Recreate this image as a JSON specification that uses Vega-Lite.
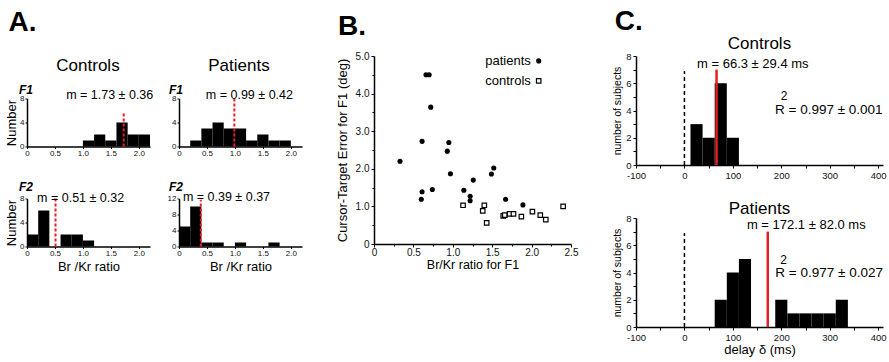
{
  "$schema": "https://vega.github.io/schema/vega-lite/v6.json",
  "padding": {"left": 5, "top": 8, "right": 2, "bottom": 2},
  "config": {
    "font": "Liberation Sans",
    "view": {"stroke": null},
    "axis": {"grid": false, "domainColor": "black", "tickColor": "black", "labelColor": "#111", "titleColor": "black", "titleFontWeight": "normal", "domainWidth": 1.5, "labelFont": "Liberation Sans", "titleFont": "Liberation Sans", "labelOverlap": false, "labelFlush": false},
    "title": {"font": "Liberation Sans", "color": "black", "fontWeight": "normal"}
  },
  "datasets": {
    "aHeader": [{"group": "Controls"}, {"group": "Patients"}],
    "aCtrlF1": [
      {"bin_start": 1.0, "bin_end": 1.2, "count": 1},
      {"bin_start": 1.2, "bin_end": 1.4, "count": 2},
      {"bin_start": 1.4, "bin_end": 1.6, "count": 1},
      {"bin_start": 1.6, "bin_end": 1.8, "count": 4},
      {"bin_start": 1.8, "bin_end": 2.0, "count": 2},
      {"bin_start": 2.0, "bin_end": 2.2, "count": 2}
    ],
    "aPatF1": [
      {"bin_start": 0.2, "bin_end": 0.4, "count": 1},
      {"bin_start": 0.4, "bin_end": 0.6, "count": 3},
      {"bin_start": 0.6, "bin_end": 0.8, "count": 4},
      {"bin_start": 0.8, "bin_end": 1.0, "count": 3},
      {"bin_start": 1.0, "bin_end": 1.2, "count": 3},
      {"bin_start": 1.2, "bin_end": 1.4, "count": 1},
      {"bin_start": 1.4, "bin_end": 1.6, "count": 2},
      {"bin_start": 1.6, "bin_end": 1.8, "count": 1},
      {"bin_start": 1.8, "bin_end": 2.0, "count": 1}
    ],
    "aCtrlF2": [
      {"bin_start": 0.0, "bin_end": 0.2, "count": 2},
      {"bin_start": 0.2, "bin_end": 0.4, "count": 6},
      {"bin_start": 0.6, "bin_end": 0.8, "count": 2},
      {"bin_start": 0.8, "bin_end": 1.0, "count": 2},
      {"bin_start": 1.0, "bin_end": 1.2, "count": 1}
    ],
    "aPatF2": [
      {"bin_start": 0.0, "bin_end": 0.2, "count": 5},
      {"bin_start": 0.2, "bin_end": 0.4, "count": 10},
      {"bin_start": 0.4, "bin_end": 0.6, "count": 1},
      {"bin_start": 0.6, "bin_end": 0.8, "count": 1},
      {"bin_start": 1.0, "bin_end": 1.2, "count": 1},
      {"bin_start": 1.6, "bin_end": 1.8, "count": 1}
    ],
    "scatter": [
      {"group": "patients", "ratio": 0.33, "error": 2.20},
      {"group": "patients", "ratio": 0.61, "error": 2.73},
      {"group": "patients", "ratio": 0.61, "error": 1.39},
      {"group": "patients", "ratio": 0.60, "error": 1.19},
      {"group": "patients", "ratio": 0.66, "error": 4.50},
      {"group": "patients", "ratio": 0.70, "error": 4.50},
      {"group": "patients", "ratio": 0.72, "error": 3.64},
      {"group": "patients", "ratio": 0.74, "error": 1.45},
      {"group": "patients", "ratio": 0.93, "error": 2.47},
      {"group": "patients", "ratio": 0.95, "error": 2.70},
      {"group": "patients", "ratio": 0.97, "error": 1.87},
      {"group": "patients", "ratio": 1.14, "error": 1.43},
      {"group": "patients", "ratio": 1.22, "error": 1.27},
      {"group": "patients", "ratio": 1.22, "error": 1.15},
      {"group": "patients", "ratio": 1.26, "error": 1.70},
      {"group": "patients", "ratio": 1.49, "error": 1.86},
      {"group": "patients", "ratio": 1.52, "error": 2.02},
      {"group": "patients", "ratio": 1.67, "error": 1.19},
      {"group": "patients", "ratio": 1.89, "error": 1.04},
      {"group": "controls", "ratio": 1.13, "error": 1.03},
      {"group": "controls", "ratio": 1.40, "error": 1.03},
      {"group": "controls", "ratio": 1.38, "error": 0.88},
      {"group": "controls", "ratio": 1.43, "error": 0.56},
      {"group": "controls", "ratio": 1.64, "error": 0.75},
      {"group": "controls", "ratio": 1.66, "error": 0.77},
      {"group": "controls", "ratio": 1.72, "error": 0.80},
      {"group": "controls", "ratio": 1.77, "error": 0.80},
      {"group": "controls", "ratio": 1.87, "error": 0.73},
      {"group": "controls", "ratio": 2.01, "error": 0.86},
      {"group": "controls", "ratio": 2.11, "error": 0.77},
      {"group": "controls", "ratio": 2.18, "error": 0.65},
      {"group": "controls", "ratio": 2.40, "error": 1.00}
    ],
    "cCtrl": [
      {"bin_start": 12.5, "bin_end": 37.5, "count": 3},
      {"bin_start": 37.5, "bin_end": 62.5, "count": 2},
      {"bin_start": 62.5, "bin_end": 87.5, "count": 6},
      {"bin_start": 87.5, "bin_end": 112.5, "count": 2}
    ],
    "cPat": [
      {"bin_start": 62.5, "bin_end": 87.5, "count": 2},
      {"bin_start": 87.5, "bin_end": 112.5, "count": 4},
      {"bin_start": 112.5, "bin_end": 137.5, "count": 5},
      {"bin_start": 187.5, "bin_end": 212.5, "count": 2},
      {"bin_start": 212.5, "bin_end": 237.5, "count": 1},
      {"bin_start": 237.5, "bin_end": 262.5, "count": 1},
      {"bin_start": 262.5, "bin_end": 287.5, "count": 1},
      {"bin_start": 287.5, "bin_end": 312.5, "count": 1},
      {"bin_start": 312.5, "bin_end": 337.5, "count": 2}
    ]
  },
  "hconcat": [
    {
      "title": {"text": "A.", "anchor": "start", "fontSize": 28, "fontWeight": "bold", "offset": 19, "dx": 3},
      "spacing": 7.5,
      "vconcat": [
        {
          "width": 273, "height": 20,
          "data": {"name": "aHeader"},
          "mark": {"type": "text", "fontSize": 17, "color": "black", "baseline": "middle"},
          "encoding": {
            "x": {"field": "group", "type": "nominal", "scale": {"type": "point", "padding": 0.404}, "axis": null},
            "text": {"field": "group"}
          }
        },
        {
          "bounds": "flush",
          "columns": 2,
          "spacing": {"row": 52, "column": 29},
          "concat": [
            {
              "width": 123, "height": 48,
              "title": {"text": "F1", "anchor": "start", "frame": "group", "dx": -8, "fontSize": 12, "fontWeight": "bold", "fontStyle": "italic", "offset": -8.5},
              "layer": [
                {"data": {"name": "aCtrlF1"}, "mark": {"type": "rect", "color": "black"},
                 "encoding": {
                   "x": {"field": "bin_start", "type": "quantitative", "scale": {"domain": [0, 2.2], "nice": false, "zero": false},
                         "axis": {"values": [0, 0.5, 1, 1.5, 2], "tickCount": 50, "labelFlush": false, "labelExpr": "datum.value == 0 ? '0' : format(datum.value, '.1f')", "labelFontSize": 8, "tickSize": 2, "labelPadding": 1, "title": null}},
                   "x2": {"field": "bin_end"},
                   "y": {"field": "count", "type": "quantitative", "scale": {"domain": [0, 8], "nice": false},
                         "axis": {"values": [0, 4, 8], "tickCount": 50, "labelExpr": "'' + datum.value", "labelFontSize": 8, "tickSize": 2, "labelPadding": 1, "title": "Number", "titleFontSize": 13, "titlePadding": 1}},
                   "y2": {"datum": 0}
                 }},
                {"data": {"values": [{}]}, "mark": {"type": "rule", "color": "#f01c24", "strokeWidth": 2, "strokeDash": [3, 2]},
                 "encoding": {"x": {"datum": 1.73}, "y": {"datum": 0}, "y2": {"datum": 5.6}}},
                {"data": {"values": [{}]}, "mark": {"type": "text", "align": "left", "baseline": "alphabetic", "fontSize": 12.5, "color": "black"},
                 "encoding": {"x": {"datum": 0.70}, "y": {"datum": 8}, "text": {"value": "m = 1.73 ± 0.36"}}}
              ]
            },
            {
              "width": 123, "height": 48,
              "title": {"text": "F1", "anchor": "start", "frame": "group", "dx": -10, "fontSize": 12, "fontWeight": "bold", "fontStyle": "italic", "offset": -8.5},
              "layer": [
                {"data": {"name": "aPatF1"}, "mark": {"type": "rect", "color": "black"},
                 "encoding": {
                   "x": {"field": "bin_start", "type": "quantitative", "scale": {"domain": [0, 2.2], "nice": false, "zero": false},
                         "axis": {"values": [0, 0.5, 1, 1.5, 2], "tickCount": 50, "labelFlush": false, "labelExpr": "datum.value == 0 ? '0' : format(datum.value, '.1f')", "labelFontSize": 8, "tickSize": 2, "labelPadding": 1, "title": null}},
                   "x2": {"field": "bin_end"},
                   "y": {"field": "count", "type": "quantitative", "scale": {"domain": [0, 8], "nice": false},
                         "axis": {"values": [0, 4, 8], "tickCount": 50, "labelExpr": "'' + datum.value", "labelFontSize": 8, "tickSize": 2, "labelPadding": 1, "title": null}},
                   "y2": {"datum": 0}
                 }},
                {"data": {"values": [{}]}, "mark": {"type": "rule", "color": "#f01c24", "strokeWidth": 2, "strokeDash": [3, 2]},
                 "encoding": {"x": {"datum": 0.99}, "y": {"datum": 0}, "y2": {"datum": 8}}},
                {"data": {"values": [{}]}, "mark": {"type": "text", "align": "left", "baseline": "alphabetic", "fontSize": 12.5, "color": "black"},
                 "encoding": {"x": {"datum": 0.48}, "y": {"datum": 8}, "text": {"value": "m = 0.99 ± 0.42"}}}
              ]
            },
            {
              "width": 123, "height": 48,
              "title": {"text": "F2", "anchor": "start", "frame": "group", "dx": -8, "fontSize": 12, "fontWeight": "bold", "fontStyle": "italic", "offset": -2},
              "layer": [
                {"data": {"name": "aCtrlF2"}, "mark": {"type": "rect", "color": "black"},
                 "encoding": {
                   "x": {"field": "bin_start", "type": "quantitative", "scale": {"domain": [0, 2.2], "nice": false, "zero": false},
                         "axis": {"values": [0, 0.5, 1, 1.5, 2], "tickCount": 50, "labelFlush": false, "labelExpr": "datum.value == 0 ? '0' : format(datum.value, '.1f')", "labelFontSize": 8, "tickSize": 2, "labelPadding": 1, "title": "Br /Kr ratio", "titleFontSize": 13, "titlePadding": 3}},
                   "x2": {"field": "bin_end"},
                   "y": {"field": "count", "type": "quantitative", "scale": {"domain": [0, 8], "nice": false},
                         "axis": {"values": [0, 4, 8], "tickCount": 50, "labelExpr": "'' + datum.value", "labelFontSize": 8, "tickSize": 2, "labelPadding": 1, "title": "Number", "titleFontSize": 13, "titlePadding": 1}},
                   "y2": {"datum": 0}
                 }},
                {"data": {"values": [{}]}, "mark": {"type": "rule", "color": "#f01c24", "strokeWidth": 2, "strokeDash": [3, 2]},
                 "encoding": {"x": {"datum": 0.51}, "y": {"datum": 0}, "y2": {"datum": 8}}},
                {"data": {"values": [{}]}, "mark": {"type": "text", "align": "left", "baseline": "alphabetic", "fontSize": 12.5, "color": "black"},
                 "encoding": {"x": {"datum": 0.18}, "y": {"datum": 7.5}, "text": {"value": "m = 0.51 ± 0.32"}}}
              ]
            },
            {
              "width": 123, "height": 48,
              "title": {"text": "F2", "anchor": "start", "frame": "group", "dx": -10, "fontSize": 12, "fontWeight": "bold", "fontStyle": "italic", "offset": -2.7},
              "layer": [
                {"data": {"name": "aPatF2"}, "mark": {"type": "rect", "color": "black"},
                 "encoding": {
                   "x": {"field": "bin_start", "type": "quantitative", "scale": {"domain": [0, 2.2], "nice": false, "zero": false},
                         "axis": {"values": [0, 0.5, 1, 1.5, 2], "tickCount": 50, "labelFlush": false, "labelExpr": "datum.value == 0 ? '0' : format(datum.value, '.1f')", "labelFontSize": 8, "tickSize": 2, "labelPadding": 1, "title": "Br /Kr ratio", "titleFontSize": 13, "titlePadding": 3}},
                   "x2": {"field": "bin_end"},
                   "y": {"field": "count", "type": "quantitative", "scale": {"domain": [0, 12], "nice": false},
                         "axis": {"values": [0, 4, 8, 12], "tickCount": 50, "labelExpr": "'' + datum.value", "labelFontSize": 8, "tickSize": 2, "labelPadding": 1, "title": null}},
                   "y2": {"datum": 0}
                 }},
                {"data": {"values": [{}]}, "mark": {"type": "rule", "color": "#f01c24", "strokeWidth": 2, "strokeDash": [3, 2]},
                 "encoding": {"x": {"datum": 0.39}, "y": {"datum": 0}, "y2": {"datum": 11.7}}},
                {"data": {"values": [{}]}, "mark": {"type": "text", "align": "left", "baseline": "alphabetic", "fontSize": 12.5, "color": "black"},
                 "encoding": {"x": {"datum": 0.07}, "y": {"datum": 11.4}, "text": {"value": "m = 0.39 ± 0.37"}}}
              ]
            }
          ]
        }
      ]
    },
    {
      "title": {"text": "B.", "anchor": "start", "fontSize": 28, "fontWeight": "bold", "offset": 10, "dx": 2},
      "width": 197, "height": 188,
      "layer": [
        {"data": {"name": "scatter"}, "transform": [{"filter": "datum.group == 'patients'"}],
         "mark": {"type": "circle", "color": "black", "size": 26, "opacity": 1},
         "encoding": {
           "x": {"field": "ratio", "type": "quantitative", "scale": {"domain": [0, 2.5], "nice": false, "zero": false},
                 "axis": {"values": [0, 0.25, 0.5, 0.75, 1, 1.25, 1.5, 1.75, 2, 2.25, 2.5], "tickCount": 50, "labelFlush": false,
                          "labelExpr": "round(datum.value * 100) % 50 == 0 ? (datum.value == 0 ? '0' : format(datum.value, '.1f')) : ''",
                          "tickSize": {"condition": {"test": "round(datum.value * 100) % 50 != 0", "value": 2}, "value": 3},
                          "labelFontSize": 10, "labelPadding": 0, "title": "Br/Kr ratio for F1", "titleFontSize": 12.5, "titlePadding": 1}},
           "y": {"field": "error", "type": "quantitative", "scale": {"domain": [0, 5], "nice": false},
                 "axis": {"values": [0, 0.5, 1, 1.5, 2, 2.5, 3, 3.5, 4, 4.5, 5], "tickCount": 50,
                          "labelExpr": "round(datum.value * 10) % 10 == 0 ? (datum.value == 0 ? '0' : format(datum.value, '.1f')) : ''",
                          "tickSize": {"condition": {"test": "round(datum.value * 10) % 10 != 0", "value": 2}, "value": 3},
                          "labelFontSize": 10, "labelPadding": 2, "title": "Cursor-Target Error for F1 (deg)", "titleFontSize": 13, "titlePadding": 6}}
         }},
        {"data": {"name": "scatter"}, "transform": [{"filter": "datum.group == 'controls'"}],
         "mark": {"type": "square", "fill": "white", "stroke": "black", "strokeWidth": 1.2, "size": 20, "opacity": 1},
         "encoding": {"x": {"field": "ratio", "type": "quantitative"}, "y": {"field": "error", "type": "quantitative"}}},
        {"data": {"values": [{}]}, "mark": {"type": "text", "align": "right", "baseline": "middle", "fontSize": 13, "color": "black"},
         "encoding": {"x": {"datum": 1.99}, "y": {"datum": 4.87}, "text": {"value": "patients"}}},
        {"data": {"values": [{}]}, "mark": {"type": "text", "align": "right", "baseline": "middle", "fontSize": 13, "color": "black"},
         "encoding": {"x": {"datum": 1.99}, "y": {"datum": 4.34}, "text": {"value": "controls"}}},
        {"data": {"values": [{}]}, "mark": {"type": "circle", "color": "black", "size": 26, "opacity": 1},
         "encoding": {"x": {"datum": 2.09}, "y": {"datum": 4.87}}},
        {"data": {"values": [{}]}, "mark": {"type": "square", "fill": "white", "stroke": "black", "strokeWidth": 1.2, "size": 20, "opacity": 1},
         "encoding": {"x": {"datum": 2.09}, "y": {"datum": 4.34}}}
      ]
    },
    {
      "title": {"text": "C.", "anchor": "start", "fontSize": 28, "fontWeight": "bold", "offset": -1.5, "dx": 2},
      "bounds": "flush",
      "spacing": 53,
      "vconcat": [
        {
          "width": 247, "height": 109,
          "title": {"text": "Controls", "fontSize": 17, "anchor": "middle", "frame": "group", "offset": -1.6},
          "layer": [
            {"data": {"name": "cCtrl"}, "mark": {"type": "rect", "color": "black"},
             "encoding": {
               "x": {"field": "bin_start", "type": "quantitative", "scale": {"domain": [-100, 410], "nice": false, "zero": false},
                     "axis": {"values": [-100, -50, 0, 50, 100, 150, 200, 250, 300, 350, 400], "tickCount": 50, "labelFlush": false, "labelExpr": "datum.value % 100 == 0 ? '' + datum.value : ''", "labelFontSize": 9.5, "tickSize": 3, "labelPadding": 2, "title": null}},
               "x2": {"field": "bin_end"},
               "y": {"field": "count", "type": "quantitative", "scale": {"domain": [0, 8], "nice": false},
                     "axis": {"values": [0, 1, 2, 3, 4, 5, 6, 7, 8], "tickCount": 50, "labelExpr": "datum.value % 2 == 0 ? '' + datum.value : ''", "labelFontSize": 9.5, "tickSize": 3, "labelPadding": 2, "title": "number of subjects", "titleFontSize": 10.5, "titlePadding": 3}},
               "y2": {"datum": 0}
             }},
            {"data": {"values": [{}]}, "mark": {"type": "rule", "color": "black", "strokeWidth": 1.5, "strokeDash": [4, 3]},
             "encoding": {"x": {"datum": 0}, "y": {"datum": 0}, "y2": {"datum": 6.9}}},
            {"data": {"values": [{}]}, "mark": {"type": "rule", "color": "#e41e26", "strokeWidth": 2.5},
             "encoding": {"x": {"datum": 66.3}, "y": {"datum": 0}, "y2": {"datum": 7}}},
            {"data": {"values": [{}]}, "mark": {"type": "text", "align": "left", "baseline": "alphabetic", "fontSize": 13, "color": "black"},
             "encoding": {"x": {"datum": 26}, "y": {"datum": 7.15}, "text": {"value": "m = 66.3 ± 29.4 ms"}}},
            {"data": {"values": [{}]}, "mark": {"type": "text", "align": "left", "baseline": "alphabetic", "fontSize": 13.5, "color": "black"},
             "encoding": {"x": {"datum": 187}, "y": {"datum": 3.73}, "text": {"value": "R = 0.997 ± 0.001"}}},
            {"data": {"values": [{}]}, "mark": {"type": "text", "align": "left", "baseline": "alphabetic", "fontSize": 12, "color": "black"},
             "encoding": {"x": {"datum": 199}, "y": {"datum": 4.8}, "text": {"value": "2"}}}
          ]
        },
        {
          "width": 247, "height": 109,
          "title": {"text": "Patients", "fontSize": 17, "anchor": "middle", "frame": "group", "offset": -4.9},
          "layer": [
            {"data": {"name": "cPat"}, "mark": {"type": "rect", "color": "black"},
             "encoding": {
               "x": {"field": "bin_start", "type": "quantitative", "scale": {"domain": [-100, 410], "nice": false, "zero": false},
                     "axis": {"values": [-100, -50, 0, 50, 100, 150, 200, 250, 300, 350, 400], "tickCount": 50, "labelFlush": false, "labelExpr": "datum.value % 100 == 0 ? '' + datum.value : ''", "labelFontSize": 9.5, "tickSize": 3, "labelPadding": 2, "title": "delay δ (ms)", "titleFontSize": 13, "titlePadding": 2}},
               "x2": {"field": "bin_end"},
               "y": {"field": "count", "type": "quantitative", "scale": {"domain": [0, 8], "nice": false},
                     "axis": {"values": [0, 1, 2, 3, 4, 5, 6, 7, 8], "tickCount": 50, "labelExpr": "datum.value % 2 == 0 ? '' + datum.value : ''", "labelFontSize": 9.5, "tickSize": 3, "labelPadding": 2, "title": "number of subjects", "titleFontSize": 10.5, "titlePadding": 3}},
               "y2": {"datum": 0}
             }},
            {"data": {"values": [{}]}, "mark": {"type": "rule", "color": "black", "strokeWidth": 1.5, "strokeDash": [4, 3]},
             "encoding": {"x": {"datum": 0}, "y": {"datum": 0}, "y2": {"datum": 6.9}}},
            {"data": {"values": [{}]}, "mark": {"type": "rule", "color": "#e41e26", "strokeWidth": 2.5},
             "encoding": {"x": {"datum": 172.1}, "y": {"datum": 0}, "y2": {"datum": 7}}},
            {"data": {"values": [{}]}, "mark": {"type": "text", "align": "left", "baseline": "alphabetic", "fontSize": 13, "color": "black"},
             "encoding": {"x": {"datum": 129}, "y": {"datum": 7.17}, "text": {"value": "m = 172.1 ± 82.0 ms"}}},
            {"data": {"values": [{}]}, "mark": {"type": "text", "align": "left", "baseline": "alphabetic", "fontSize": 13.5, "color": "black"},
             "encoding": {"x": {"datum": 187.7}, "y": {"datum": 3.65}, "text": {"value": "R = 0.977 ± 0.027"}}},
            {"data": {"values": [{}]}, "mark": {"type": "text", "align": "left", "baseline": "alphabetic", "fontSize": 12, "color": "black"},
             "encoding": {"x": {"datum": 198}, "y": {"datum": 4.6}, "text": {"value": "2"}}}
          ]
        }
      ]
    }
  ],
  "spacing": 34
}
